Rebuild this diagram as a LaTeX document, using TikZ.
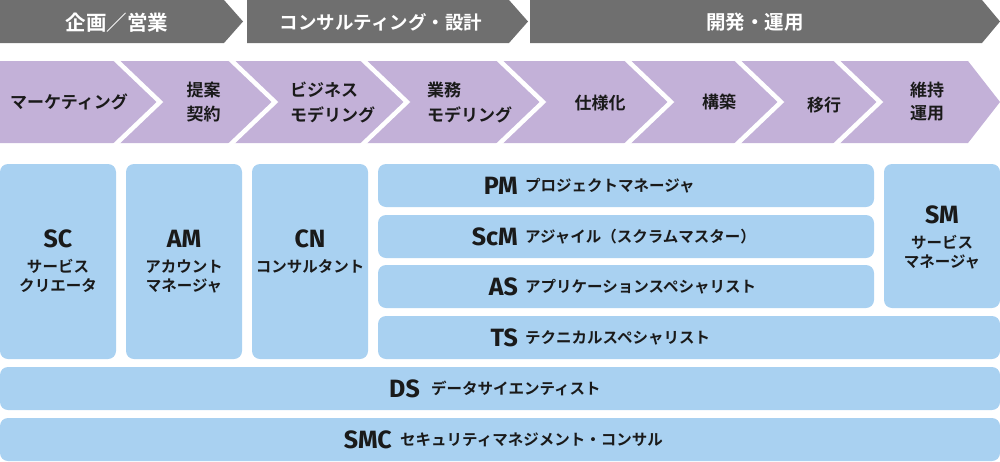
\documentclass[tikz,border=0pt]{standalone}
\usepackage{fontspec}
\newfontfamily\jp{Noto Sans CJK JP Bold}
\newfontfamily\ab{Fira Sans}
\definecolor{boxblue}{HTML}{A9D1F1}
\definecolor{purp}{HTML}{C3B1D8}
\definecolor{darkg}{HTML}{6F6F6F}
\definecolor{txt}{HTML}{1A1A1A}
\tikzset{
  box/.style={fill=boxblue, rounded corners=8pt, inner sep=0pt, draw=none},
  jt/.style={font=\jp\fontsize{15.5}{19.5}\selectfont, text=txt, inner sep=0pt},
  abt/.style={font=\ab\bfseries\fontsize{25}{27}\selectfont, text=txt, inner sep=0pt},
  pt/.style={font=\jp\fontsize{17}{22}\selectfont, text=txt, inner sep=0pt},
  gt/.style={text=white, inner sep=0pt},
  sepline/.style={draw=white, line width=4.5pt, line join=miter},
}
\begin{document}
\begin{tikzpicture}[x=1pt,y=-1pt]
\useasboundingbox (0,0) rectangle (1000,461);
% gray phase arrows
\fill[darkg] (0,0) -- (224,0) -- (243,21.5) -- (224,43) -- (0,43) -- cycle;
\fill[darkg] (247,0) -- (509,0) -- (528,21.5) -- (509,43) -- (247,43) -- cycle;
\fill[darkg] (530,0) -- (982,0) -- (1000,21.5) -- (982,43) -- (530,43) -- cycle;
\node[gt, font=\jp\fontsize{20.5}{22}\selectfont] (ph1) at (117,22.5) {企画／営業};
\node[gt, font=\jp\fontsize{18.5}{22}\selectfont] (ph2) at (381,22.5) {コンサルティング・設計};
\node[gt, font=\jp\fontsize{19.5}{22}\selectfont] (ph3) at (755,22.5) {開発・運用};
% purple process band
\fill[purp] (0,61) -- (968,61) -- (1000,102) -- (968,143) -- (0,143) -- cycle;
\foreach \a in {160,275,407,543,671,781,880}{
  \draw[sepline] (\a-47.2,57) -- (\a,102) -- (\a-47.2,147);
}
\node[pt] (p1) at (69,102) {マーケティング};
\node[pt] (p2a) at (203.5,90) {提案};
\node[pt] (p2b) at (203.5,114) {契約};
\node[pt, anchor=west] (p3a) at (290,90) {ビジネス};
\node[pt, anchor=west] (p3b) at (290,114.5) {モデリング};
\node[pt, anchor=west] (p4a) at (427,90) {業務};
\node[pt, anchor=west] (p4b) at (427,114.5) {モデリング};
\node[pt] (p5) at (600,103) {仕様化};
\node[pt] (p6) at (719,101.5) {構築};
\node[pt] (p7) at (824,105) {移行};
\node[pt] (p8a) at (927,90) {維持};
\node[pt] (p8b) at (927,113.5) {運用};
% role boxes
\node[box, minimum width=116pt, minimum height=195pt] (sc) at (58,261.5) {};
\node[box, minimum width=116pt, minimum height=195pt] (am) at (184,261.5) {};
\node[box, minimum width=116pt, minimum height=195pt] (cn) at (310,261.5) {};
\node[box, minimum width=496pt, minimum height=43pt] (pm) at (626,185.5) {};
\node[box, minimum width=496pt, minimum height=43pt] (scm) at (626,236.5) {};
\node[box, minimum width=496pt, minimum height=43pt] (as) at (626,286.5) {};
\node[box, minimum width=116pt, minimum height=144pt] (sm) at (942,236) {};
\node[box, minimum width=622pt, minimum height=43pt] (ts) at (689,337.5) {};
\node[box, minimum width=1000pt, minimum height=43pt] (ds) at (500,388.5) {};
\node[box, minimum width=1000pt, minimum height=43pt] (smc) at (500,439.5) {};
% texts in tall boxes
\node[abt] (sct) at (58,239) {SC};
\node[jt] (sc1) at (58,266.5) {サービス};
\node[jt] (sc2) at (58,286) {クリエータ};
\node[abt] (amt) at (184,239) {AM};
\node[jt] (am1) at (184,266.5) {アカウント};
\node[jt] (am2) at (184,286) {マネージャ};
\node[abt] (cnt) at (310,239) {CN};
\node[jt] (cn1) at (310,266.5) {コンサルタント};
\node[abt] (smt) at (942,215) {SM};
\node[jt] (sm1) at (942,242) {サービス};
\node[jt] (sm2) at (942,262) {マネージャ};
% row texts
\node[abt, anchor=east] (pmt) at (518,185.5) {PM};
\node[jt, anchor=west] (pm1) at (525,185.5) {プロジェクトマネージャ};
\node[abt, anchor=east] (scmt) at (518,236.5) {ScM};
\node[jt, anchor=west] (scm1) at (525,236.5) {アジャイル（スクラムマスター）};
\node[abt, anchor=east] (ast) at (518,286.5) {AS};
\node[jt, anchor=west] (as1) at (525,286.5) {アプリケーションスペシャリスト};
\node[abt, anchor=east] (tst) at (518,337.5) {TS};
\node[jt, anchor=west] (ts1) at (525,337.5) {テクニカルスペシャリスト};
\node[abt, anchor=east] (dst) at (420,388.5) {DS};
\node[jt, anchor=west] (ds1) at (431,388.5) {データサイエンティスト};
\node[abt, anchor=east] (smct) at (392,439.5) {SMC};
\node[jt, anchor=west] (smc1) at (400,439.5) {セキュリティマネジメント・コンサル};
\end{tikzpicture}
\end{document}
